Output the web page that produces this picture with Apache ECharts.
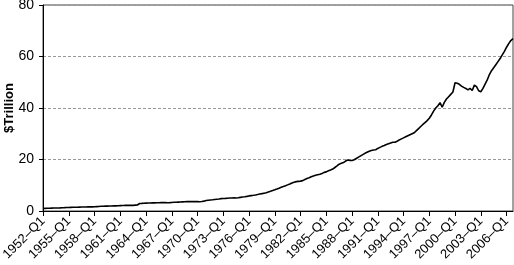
<!DOCTYPE html>
<html>
<head>
<meta charset="utf-8">
<script src="https://cdn.jsdelivr.net/npm/echarts@6/dist/echarts.min.js"></script>
<style>
html,body{margin:0;padding:0;background:#fff;}
#chart{width:514px;height:265px;}
</style>
</head>
<body>
<div id="chart"></div>
<script>
// Years covered (quarterly data, 1952-Q1 .. 2006-Q4)
const years = [1952,1953,1954,1955,1956,1957,1958,1959,1960,1961,1962,1963,1964,1965,1966,1967,1968,1969,1970,1971,1972,1973,1974,1975,1976,1977,1978,1979,1980,1981,1982,1983,1984,1985,1986,1987,1988,1989,1990,1991,1992,1993,1994,1995,1996,1997,1998,1999,2000,2001,2002,2003,2004,2005,2006];
const quarters = ['Q1','Q2','Q3','Q4'];

// $ trillion, four quarters per row
const values1950s = [
  1.00, 1.03, 1.06, 1.09,
  1.12, 1.14, 1.16, 1.19,
  1.22, 1.26, 1.30, 1.35,
  1.38, 1.41, 1.44, 1.46,
  1.48, 1.51, 1.53, 1.55,
  1.58, 1.60, 1.59, 1.62,
  1.66, 1.71, 1.76, 1.82,
  1.86, 1.89, 1.91, 1.94
];
const values1960s = [
  1.96, 1.98, 2.00, 2.03,
  2.08, 2.13, 2.17, 2.22,
  2.20, 2.17, 2.20, 2.27,
  2.34, 2.92, 2.96, 3.01,
  3.05, 3.08, 3.11, 3.14,
  3.17, 3.19, 3.22, 3.25,
  3.27, 3.25, 3.23, 3.27,
  3.33, 3.38, 3.42, 3.46,
  3.50, 3.56, 3.61, 3.66,
  3.66, 3.67, 3.66, 3.68
];
const values1970s = [
  3.66, 3.62, 3.70, 3.82,
  4.05, 4.15, 4.25, 4.35,
  4.48, 4.58, 4.68, 4.80,
  4.88, 4.92, 4.98, 5.02,
  5.05, 5.08, 5.06, 5.12,
  5.28, 5.42, 5.52, 5.68,
  5.86, 5.98, 6.10, 6.24,
  6.40, 6.58, 6.74, 6.92,
  7.10, 7.38, 7.66, 7.95,
  8.25, 8.56, 8.88, 9.20
];
const values1980s = [
  9.48, 9.80, 10.15, 10.50,
  10.90, 11.20, 11.40, 11.50,
  11.60, 11.80, 12.20, 12.60,
  12.90, 13.30, 13.60, 13.90,
  14.10, 14.30, 14.60, 15.00,
  15.20, 15.60, 15.90, 16.30,
  16.90, 17.50, 18.20, 18.50,
  18.80, 19.40, 19.80, 19.60,
  19.60, 19.90, 20.40, 20.90,
  21.40, 21.90, 22.40, 22.80
];
const values1990s = [
  23.20, 23.50, 23.70, 23.80,
  24.30, 24.70, 25.10, 25.40,
  25.80, 26.10, 26.40, 26.70,
  26.70, 27.10, 27.60, 28.00,
  28.40, 28.80, 29.20, 29.60,
  30.00, 30.40, 31.20, 32.00,
  32.80, 33.60, 34.30, 35.10,
  36.00, 37.30, 38.80, 40.00,
  40.90, 42.10, 40.30, 42.20,
  43.50, 44.40, 45.30, 46.20
];
const values2000s = [
  49.80, 49.60, 49.20, 48.50,
  48.00, 47.60, 47.00, 47.60,
  46.80, 48.90, 48.30, 46.70,
  46.30, 47.60, 49.30, 50.90,
  53.00, 54.50, 55.60, 56.80,
  58.00, 59.20, 60.60, 62.00,
  63.60, 65.00, 66.20, 66.90
];
const yTicks = [0, 20, 40, 60, 80];

const categories = [];
years.forEach(y => quarters.forEach(q => categories.push(y + '\u2013' + q)));
const seriesValues = [].concat(values1950s, values1960s, values1970s, values1980s, values1990s, values2000s);

const FONT = '"Liberation Sans", Arial, sans-serif';
const chart = echarts.init(document.getElementById('chart'), null, {renderer: 'canvas'});
chart.setOption({
  animation: false,
  backgroundColor: '#fff',
  grid: {
    left: 43, right: 1, top: 5, bottom: 54,
    containLabel: false,
    outerBoundsMode: 'none',
    show: true, borderColor: '#444', borderWidth: 1, backgroundColor: 'transparent'
  },
  xAxis: {
    type: 'category',
    data: categories,
    boundaryGap: false,
    axisLine: {lineStyle: {color: '#000', width: 1}},
    axisTick: {show: true, interval: 11, length: 5, lineStyle: {color: '#000'}},
    axisLabel: {interval: 11, rotate: 45, fontSize: 13, color: '#000', fontFamily: FONT, margin: 8, hideOverlap: false},
    splitLine: {show: false}
  },
  yAxis: {
    type: 'value',
    min: yTicks[0], max: yTicks[yTicks.length - 1], interval: 20,
    name: '$Trillion',
    nameLocation: 'middle',
    nameGap: 27,
    nameMoveOverlap: false,
    nameTextStyle: {fontSize: 13, fontWeight: 'bold', color: '#000', fontFamily: FONT},
    axisLine: {show: true, lineStyle: {color: '#000', width: 1}},
    axisTick: {show: true, length: 4, lineStyle: {color: '#000'}},
    axisLabel: {fontSize: 14, color: '#000', fontFamily: FONT, margin: 9},
    splitLine: {show: true, lineStyle: {color: '#999', type: [3, 2], width: 1}}
  },
  series: [{
    type: 'line',
    data: seriesValues,
    showSymbol: false,
    symbol: 'none',
    lineStyle: {color: '#000', width: 1.6},
    z: 3
  }]
});
</script>
</body>
</html>
